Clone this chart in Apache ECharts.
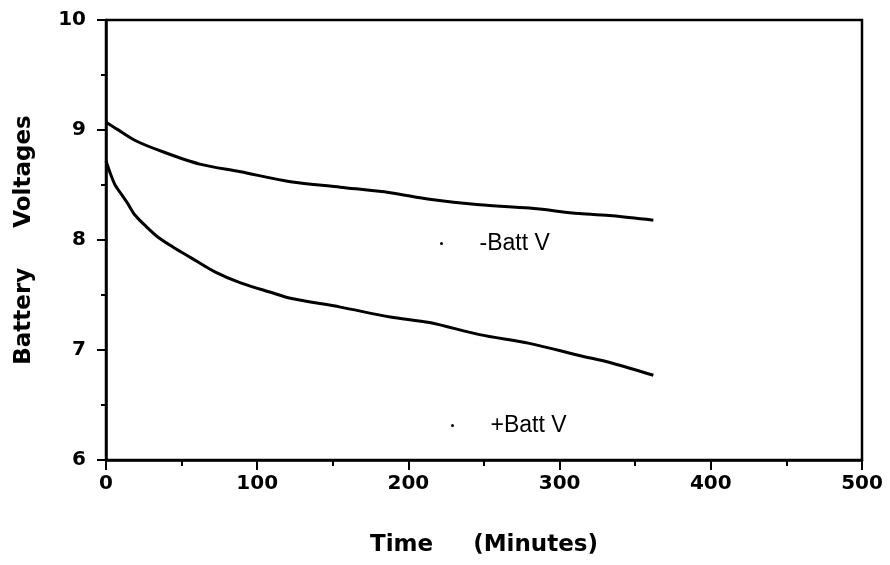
<!DOCTYPE html>
<html>
<head>
<meta charset="utf-8">
<script src="https://cdn.jsdelivr.net/npm/echarts@6/dist/echarts.min.js"></script>
<style>
html,body{margin:0;padding:0;background:#fff;}
#chart{width:890px;height:565px;}
</style>
</head>
<body>
<div id="chart"></div>
<script>
// Data
var minusTime = [0, 7, 20, 38, 62, 89, 122, 155, 188, 214, 247, 280, 313, 335, 362];
var minusVolt = [9.07, 9.01, 8.90, 8.80, 8.69, 8.62, 8.53, 8.48, 8.43, 8.37, 8.32, 8.29, 8.24, 8.22, 8.18];
var plusTime = [0, 3, 6, 10, 14, 19, 26, 34, 45, 56, 72, 89, 110, 122, 155, 188, 214, 247, 280, 313, 335, 362];
var plusVolt = [8.72, 8.60, 8.50, 8.42, 8.34, 8.23, 8.13, 8.03, 7.93, 7.84, 7.71, 7.61, 7.52, 7.47, 7.39, 7.30, 7.25, 7.14, 7.06, 6.95, 6.88, 6.77];
var seriesNames = ['-Batt V', '+Batt V'];
var xTitle = 'Time     (Minutes)';
var yTitle = 'Battery     Voltages';

function pairs(xs, ys) { return xs.map(function (x, i) { return [x, ys[i]]; }); }

var chart = echarts.init(document.getElementById('chart'), null, { renderer: 'canvas' });
var tickFont = { fontFamily: 'DejaVu Sans', fontWeight: 'bold', fontSize: 20, color: '#000' };
var legendBase = {
  orient: 'vertical', padding: 0, icon: 'circle', itemWidth: 66, itemHeight: 3,
  textStyle: { fontFamily: 'Liberation Sans', fontSize: 23, color: '#000' },
  selectedMode: false
};
chart.setOption({
  animation: false,
  backgroundColor: '#fff',
  grid: { left: 106, right: 28, top: 20, bottom: 105, show: true, borderColor: '#000', borderWidth: 2.5, containLabel: false },
  legend: [
    Object.assign({ data: [seriesNames[0]], left: 440, top: 232 }, legendBase),
    Object.assign({ data: [seriesNames[1]], left: 451, top: 414 }, legendBase)
  ],
  xAxis: {
    type: 'value', min: 0, max: 500, interval: 100,
    name: xTitle, nameLocation: 'middle', nameGap: 74,
    nameTextStyle: { fontFamily: 'DejaVu Sans', fontWeight: 'bold', fontSize: 23, color: '#000' },
    axisLine: { show: true, lineStyle: { color: '#000', width: 2.5 } },
    axisTick: { show: true, length: 10, lineStyle: { color: '#000', width: 2 } },
    minorTick: { show: true, splitNumber: 2, length: 6, lineStyle: { color: '#000', width: 2 } },
    splitLine: { show: false },
    axisLabel: Object.assign({ margin: 14 }, tickFont)
  },
  yAxis: {
    type: 'value', min: 6, max: 10, interval: 1,
    name: yTitle, nameLocation: 'middle', nameGap: 70,
    nameTextStyle: { fontFamily: 'DejaVu Sans', fontWeight: 'bold', fontSize: 23, color: '#000' },
    axisLine: { show: true, lineStyle: { color: '#000', width: 2.5 } },
    axisTick: { show: true, length: 9, lineStyle: { color: '#000', width: 2 } },
    minorTick: { show: true, splitNumber: 2, length: 5, lineStyle: { color: '#000', width: 2 } },
    splitLine: { show: false },
    axisLabel: Object.assign({ margin: 20 }, tickFont)
  },
  series: [
    {
      name: seriesNames[0], type: 'line', data: pairs(minusTime, minusVolt),
      smooth: 0.3, showSymbol: false, symbol: 'circle', symbolSize: 3,
      lineStyle: { color: '#000', width: 3 }, itemStyle: { color: '#000' }
    },
    {
      name: seriesNames[1], type: 'line', data: pairs(plusTime, plusVolt),
      smooth: 0.3, showSymbol: false, symbol: 'circle', symbolSize: 3,
      lineStyle: { color: '#000', width: 3 }, itemStyle: { color: '#000' }
    }
  ]
});
</script>
</body>
</html>
